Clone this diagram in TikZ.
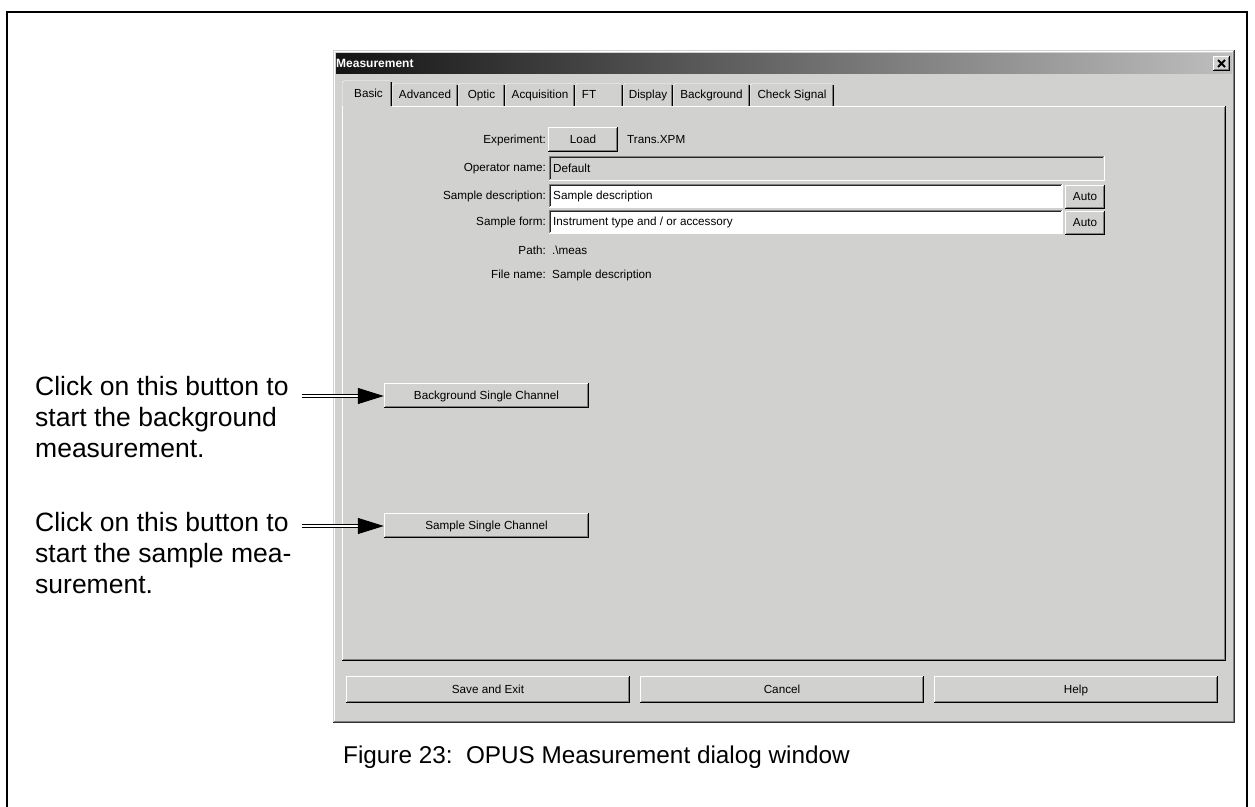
\documentclass[tikz,border=0pt]{standalone}
\usepackage{fontspec}
\setmainfont{Liberation Sans}
\usetikzlibrary{arrows.meta}
\definecolor{winbg}{RGB}{209,209,208}
\definecolor{windk}{RGB}{128,128,128}
\definecolor{titleL}{RGB}{20,20,20}
\definecolor{titleR}{RGB}{190,190,190}
\newcommand\dlg{\fontsize{11.7}{13}\selectfont}
\newcommand\callf{\fontsize{26.5}{31}\selectfont}
\tikzset{
  dlgtxt/.style={font=\dlg, inner sep=0pt, text height=8.4pt, text depth=1pt},
  calltxt/.style={font=\callf, inner sep=0pt, align=left, anchor=north west},
  dblarrow/.style={draw=black, line width=1pt, double=white, double distance=1.6pt,
    -{Triangle[length=26pt,width=16pt]}},
}
% raised button: name, x1, y1, x2, y2, text
\newcommand\winbtn[6]{%
  \fill[winbg] (#2,#3) rectangle (#4,#5);
  \draw[white] (#2+0.5,#5-1) -- (#2+0.5,#3+0.5) -- (#4-1,#3+0.5);
  \draw[windk] (#2+1,#5-1.5) -- (#4-1.5,#5-1.5) -- (#4-1.5,#3+1);
  \draw[black] (#2,#5-0.5) -- (#4-0.5,#5-0.5) -- (#4-0.5,#3);
  \node[dlgtxt, minimum width={#4-#2}, minimum height={#5-#3}] (#1) at ({(#2+#4)/2},{(#3+#5)/2}) {#6};
}
% sunken field: name, x1, y1, x2, y2, fill, text
\newcommand\winfield[7]{%
  \fill[#6] (#2,#3) rectangle (#4,#5);
  \draw[windk] (#2+0.5,#5-1) -- (#2+0.5,#3+0.5) -- (#4-1,#3+0.5);
  \draw[black!85] (#2+1.5,#5-2) -- (#2+1.5,#3+1.5) -- (#4-2,#3+1.5);
  \draw[white] (#2,#5-0.5) -- (#4-0.5,#5-0.5) -- (#4-0.5,#3);
  \node[dlgtxt, anchor=west] (#1) at (#2+4,{(#3+#5)/2}) {#7};
}
% tab: name, x1, x2, ytop, text centre x, label
\newcommand\wintab[6]{%
  \fill[winbg] (#2,#4) rectangle (#3,106);
  \draw[white] (#2+0.5,106) -- (#2+0.5,#4+2) -- (#2+2,#4+0.5) -- (#3-2,#4+0.5);
  \draw[windk] (#3-1.5,#4+1.5) -- (#3-1.5,106);
  \draw[black] (#3-0.5,#4+2) -- (#3-0.5,106);
  \node[dlgtxt] (#1) at (#5,95) {#6};
}
\begin{document}
\begin{tikzpicture}[x=1pt,y=-1pt]
\useasboundingbox (0,0) rectangle (1255,806);
% outer frame
\draw[line width=2pt] (7,812) -- (7,12) -- (1247,12) -- (1247,812);

% dialog window
\fill[winbg] (333,50) rectangle (1235,723);
\draw[white] (334.5,721) -- (334.5,51.5) -- (1233,51.5);
\draw[windk] (334,721.5) -- (1233.5,721.5) -- (1233.5,51);
\draw[black!80] (333,722.5) -- (1234.5,722.5) -- (1234.5,50);

% title bar
\shade[left color=titleL, right color=titleR] (336,53) rectangle (1232,73);
\node[font=\fontsize{12}{14}\selectfont\bfseries, text=white, inner sep=0pt, anchor=west] (title) at (336,63.5) {Measurement};
\winbtn{close}{1213}{56}{1230}{71}{}
\draw[line width=1.8pt] (1218,60) -- (1225,67) (1225,60) -- (1218,67);

% tabs (unselected)
\wintab{tadv}{392}{458}{83}{425}{Advanced}
\wintab{topt}{458}{505}{83}{481.5}{Optic}
\wintab{tacq}{505}{575}{83}{540}{Acquisition}
\wintab{tft}{575}{623}{83}{589}{FT}
\wintab{tdis}{623}{673}{83}{648}{Display}
\wintab{tbg}{673}{750}{83}{711.5}{Background}
\wintab{tchk}{750}{834}{83}{792}{Check Signal}

% panel
\draw[white] (342.5,660) -- (342.5,106.5) -- (1225,106.5);
\draw[windk] (343,659.5) -- (1224.5,659.5) -- (1224.5,107);
\draw[black] (342,660.5) -- (1225.5,660.5) -- (1225.5,106);

% selected tab
\fill[winbg] (343,80) rectangle (392,107.5);
\draw[white] (342.5,107) -- (342.5,82) -- (344.5,80.5) -- (390,80.5);
\draw[windk] (390.5,82) -- (390.5,106);
\draw[black] (391.5,82) -- (391.5,106);
\node[dlgtxt] (tbasic) at (368.5,94) {Basic};

% form
\node[dlgtxt, anchor=east] (lexp) at (546,140) {Experiment:};
\winbtn{load}{548}{127}{618}{152}{Load}
\node[dlgtxt, anchor=west] (trans) at (627,140) {Trans.XPM};

\node[dlgtxt, anchor=east] (lop) at (546,168) {Operator name:};
\winfield{fop}{549}{156}{1105}{181}{winbg}{Default}

\node[dlgtxt, anchor=east] (ldesc) at (546,196) {Sample description:};
\winfield{fdesc}{549}{184}{1063}{208}{white}{Sample description}
\winbtn{auto1}{1065}{185}{1105}{209}{Auto}

\node[dlgtxt, anchor=east] (lform) at (546,222) {Sample form:};
\winfield{fform}{549}{210}{1063}{234}{white}{Instrument type and / or accessory}
\winbtn{auto2}{1065}{211}{1105}{235}{Auto}

\node[dlgtxt, anchor=east] (lpath) at (546,251) {Path:};
\node[dlgtxt, anchor=west] (vpath) at (552,251) {.\textbackslash meas};
\node[dlgtxt, anchor=east] (lfile) at (546,274.5) {File name:};
\node[dlgtxt, anchor=west] (vfile) at (552,274.5) {Sample description};

% measurement buttons
\winbtn{bgbtn}{384}{383}{589}{408}{Background Single Channel}
\winbtn{smbtn}{384}{513}{589}{538}{Sample Single Channel}

% bottom buttons
\winbtn{save}{346}{676}{630}{703}{Save and Exit}
\winbtn{cancel}{640}{676}{924}{703}{Cancel}
\winbtn{help}{934}{676}{1218}{703}{Help}

% callouts
\node[calltxt] (cbg) at (35,376) {Click on this button to\\start the background\\measurement.};
\node[calltxt] (csm) at (35,512) {Click on this button to\\start the sample mea-\\surement.};
\coordinate (a1) at (302,396);
\coordinate (a2) at (302,526);
\draw[dblarrow] (a1) -- (a1 -| bgbtn.west);
\draw[dblarrow] (a2) -- (a2 -| smbtn.west);

% caption
\node[font=\fontsize{24.3}{28}\selectfont, inner sep=0pt, anchor=base west] (cap) at (343,763) {Figure 23:\ \ OPUS Measurement dialog window};
\end{tikzpicture}
\end{document}
